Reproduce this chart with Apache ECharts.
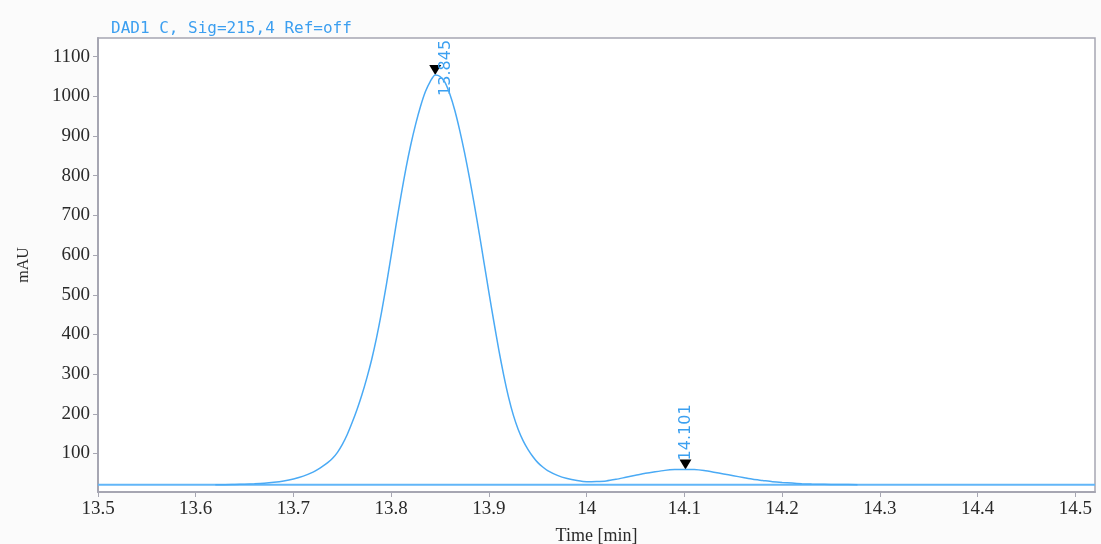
<!DOCTYPE html>
<html><head><meta charset="utf-8">
<script src="https://cdn.jsdelivr.net/npm/echarts@6/dist/echarts.min.js"></script>
<style>html,body{margin:0;padding:0;background:#fbfbfb}#c{width:1101px;height:544px}</style>
</head><body><div id="c"></div>
<script>
// ---- data ----
const signalTime = [
  13.62, 13.63, 13.64, 13.65, 13.66, 13.67, 13.68, 13.69, 13.70, 13.71, 13.72,
  13.725, 13.73, 13.735, 13.74, 13.745, 13.75, 13.755, 13.76, 13.765, 13.77, 13.775,
  13.78, 13.785, 13.79, 13.795, 13.80, 13.805, 13.81, 13.815, 13.82, 13.825, 13.83,
  13.835, 13.84, 13.845, 13.85, 13.855, 13.86, 13.865, 13.87, 13.875, 13.88, 13.885,
  13.89, 13.895, 13.90, 13.905, 13.91, 13.915, 13.92, 13.925, 13.93, 13.935, 13.94,
  13.945, 13.95, 13.955, 13.96, 13.97, 13.98, 13.99, 14.00, 14.01, 14.02, 14.03,
  14.04, 14.05, 14.06, 14.07, 14.08, 14.09, 14.10, 14.11, 14.12, 14.13, 14.14,
  14.15, 14.16, 14.17, 14.18, 14.19, 14.20, 14.21, 14.22, 14.23, 14.24, 14.25,
  14.26, 14.277
];
const signalValue = [
  21.5, 21.5, 22, 22.5, 23.5, 25, 27.5, 31, 36, 43, 53,
  60, 68, 77, 88, 103, 123, 148, 178, 211, 248, 290,
  337, 392, 455, 525, 600, 677, 750, 818, 878, 930, 975,
  1012, 1038, 1054, 1050, 1035, 1005, 965, 915, 858, 795, 727,
  655, 580, 505, 432, 362, 298, 242, 196, 160, 132, 110,
  92, 77, 66, 57, 45, 37, 32, 29, 29.5, 31, 35,
  40, 45, 50, 54, 57.5, 59.5, 60, 59.5, 57, 53, 48.5,
  44, 39.5, 35, 32, 29, 27, 25.5, 24, 23, 22.5, 22,
  22, 21.5
];
const baselineTime  = [13.5, 14.52];
const baselineValue = [21, 21];
const peakTime   = [13.845, 14.101];
const peakValue  = [1054, 60];
const peakLabels = ['13.845', '14.101'];
const xTickValues = [13.5, 13.6, 13.7, 13.8, 13.9, 14.0, 14.1, 14.2, 14.3, 14.4, 14.5];
const yTickValues = [100, 200, 300, 400, 500, 600, 700, 800, 900, 1000, 1100];
const titleText = 'DAD1 C, Sig=215,4 Ref=off';
const xAxisName = 'Time [min]';
const yAxisName = 'mAU';

// ---- chart ----
const axisGray = '#a6a6b2';
const blue = '#4aaaf5';
const labelFont = {color: '#2a2a2a', fontFamily: 'Liberation Serif', fontSize: 19};
const peakLabelOffsets = [[-33, 11], [-3, 0]];

const chart = echarts.init(document.getElementById('c'));
chart.setOption({
  animation: false,
  backgroundColor: '#fbfbfb',
  title: {
    text: titleText, left: 106, top: 16,
    textStyle: {color: '#3c9ff0', fontFamily: 'DejaVu Sans Mono', fontSize: 16, fontWeight: 'normal'}
  },
  grid: {left: 98, right: 6, top: 38, bottom: 52, outerBoundsMode: 'none', containLabel: false,
         show: true, backgroundColor: '#ffffff', borderColor: axisGray, borderWidth: 1.5},
  xAxis: {
    type: 'value', min: 13.5, max: 14.52,
    name: xAxisName, nameLocation: 'middle', nameGap: 35,
    nameTextStyle: {color: '#2a2a2a', fontFamily: 'Liberation Serif', fontSize: 18},
    axisLine: {show: true, onZero: false, lineStyle: {color: axisGray, width: 2}},
    axisTick: {show: true, length: 5, customValues: xTickValues, lineStyle: {color: axisGray}},
    axisLabel: Object.assign({margin: 8, customValues: xTickValues, formatter: v => String(parseFloat(Number(v).toFixed(2)))}, labelFont),
    splitLine: {show: false}
  },
  yAxis: {
    type: 'value', min: 3, max: 1147,
    name: yAxisName, nameLocation: 'middle', nameGap: 66, nameRotate: 90,
    nameTextStyle: {color: '#2a2a2a', fontFamily: 'Liberation Serif', fontSize: 16},
    axisLine: {show: true, onZero: false, lineStyle: {color: axisGray, width: 2}},
    axisTick: {show: true, length: 5, customValues: yTickValues, lineStyle: {color: axisGray}},
    axisLabel: Object.assign({margin: 8, customValues: yTickValues, formatter: v => String(v)}, labelFont),
    splitLine: {show: false}
  },
  series: [
    {
      type: 'line', name: 'baseline', showSymbol: false, silent: true,
      data: baselineTime.map((t, i) => [t, baselineValue[i]]),
      lineStyle: {color: '#62b6f8', width: 2}
    },
    {
      type: 'line', name: 'signal', showSymbol: false, smooth: 0.25,
      data: signalTime.map((t, i) => [t, signalValue[i]]),
      lineStyle: {color: blue, width: 1.5}
    },
    {
      type: 'scatter', name: 'peaks',
      symbol: 'triangle', symbolRotate: 180, symbolSize: [12, 10], symbolOffset: [0, -5],
      itemStyle: {color: '#000000', opacity: 1},
      data: peakTime.map((t, i) => ({
        value: [t, peakValue[i]],
        label: {offset: peakLabelOffsets[i]}
      })),
      label: {
        show: true, position: 'top', distance: 2, rotate: 90, align: 'left', verticalAlign: 'middle',
        formatter: p => peakLabels[p.dataIndex],
        color: '#3ca0f0', fontFamily: 'DejaVu Sans', fontSize: 16
      }
    }
  ]
});
</script>
</body></html>
